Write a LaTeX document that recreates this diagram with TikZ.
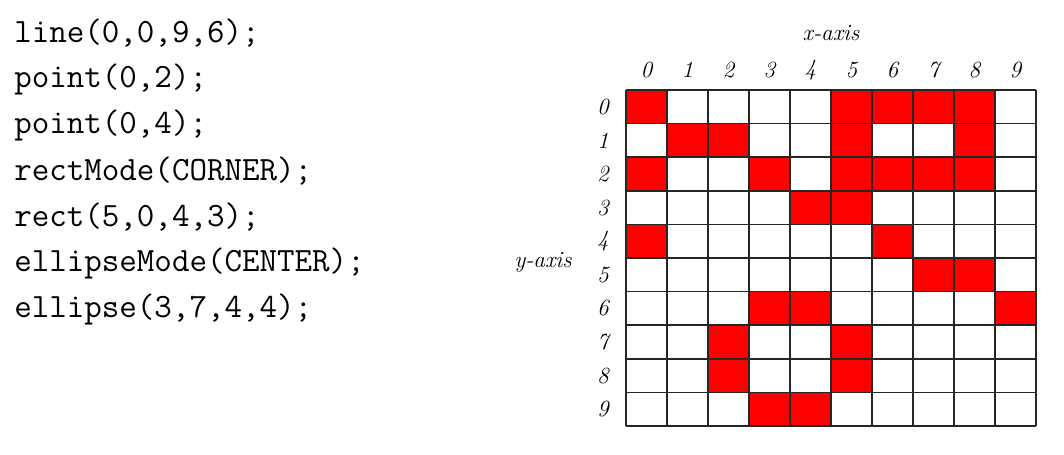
\documentclass[tikz,border=0pt]{standalone}
\usepackage{fontspec}
\begin{document}
\begin{tikzpicture}[x=0.025cm,y=-0.025cm,
  codeline/.style={anchor=west,inner sep=0pt,font=\ttfamily\fontsize{24.2}{27}\selectfont},
  axislabel/.style={inner sep=0pt,font=\itshape\fontsize{16.5}{19}\selectfont},
  pixel/.style={fill=red},
  gridline/.style={draw=black!85,line width=1.2pt}]
\useasboundingbox (0,0) rectangle (1064,454);
% the code
\foreach \t [count=\i from 0] in {{line(0,0,9,6);},{point(0,2);},{point(0,4);},
  {rectMode(CORNER);},{rect(5,0,4,3);},{ellipseMode(CENTER);},{ellipse(3,7,4,4);}}
  \node[codeline] (code\i) at (14,33+46*\i) {\t};
% lit pixels, column/row
\foreach \c/\r in {0/0,5/0,6/0,7/0,8/0, 1/1,2/1,5/1,8/1, 0/2,3/2,5/2,6/2,7/2,8/2,
  4/3,5/3, 0/4,6/4, 7/5,8/5, 3/6,4/6,9/6, 2/7,5/7, 2/8,5/8, 3/9,4/9}
  \fill[pixel] (626+41*\c,90+33.6*\r) rectangle ++(41,33.6);
% grid
\foreach \k in {0,...,10} {
  \draw[gridline] (626+41*\k,90) -- (626+41*\k,426);
  \draw[gridline] (626,90+33.6*\k) -- (1036,90+33.6*\k);
}
% axes
\foreach \k in {0,...,9} {
  \node[axislabel] (col\k) at (646.5+41*\k,70) {\k};
  \node[axislabel] (row\k) at (603,106.8+33.6*\k) {\k};
}
\node[axislabel] (xaxis) at (831,33) {x-axis};
\node[axislabel] (yaxis) at (543,262) {y-axis};
\end{tikzpicture}
\end{document}
